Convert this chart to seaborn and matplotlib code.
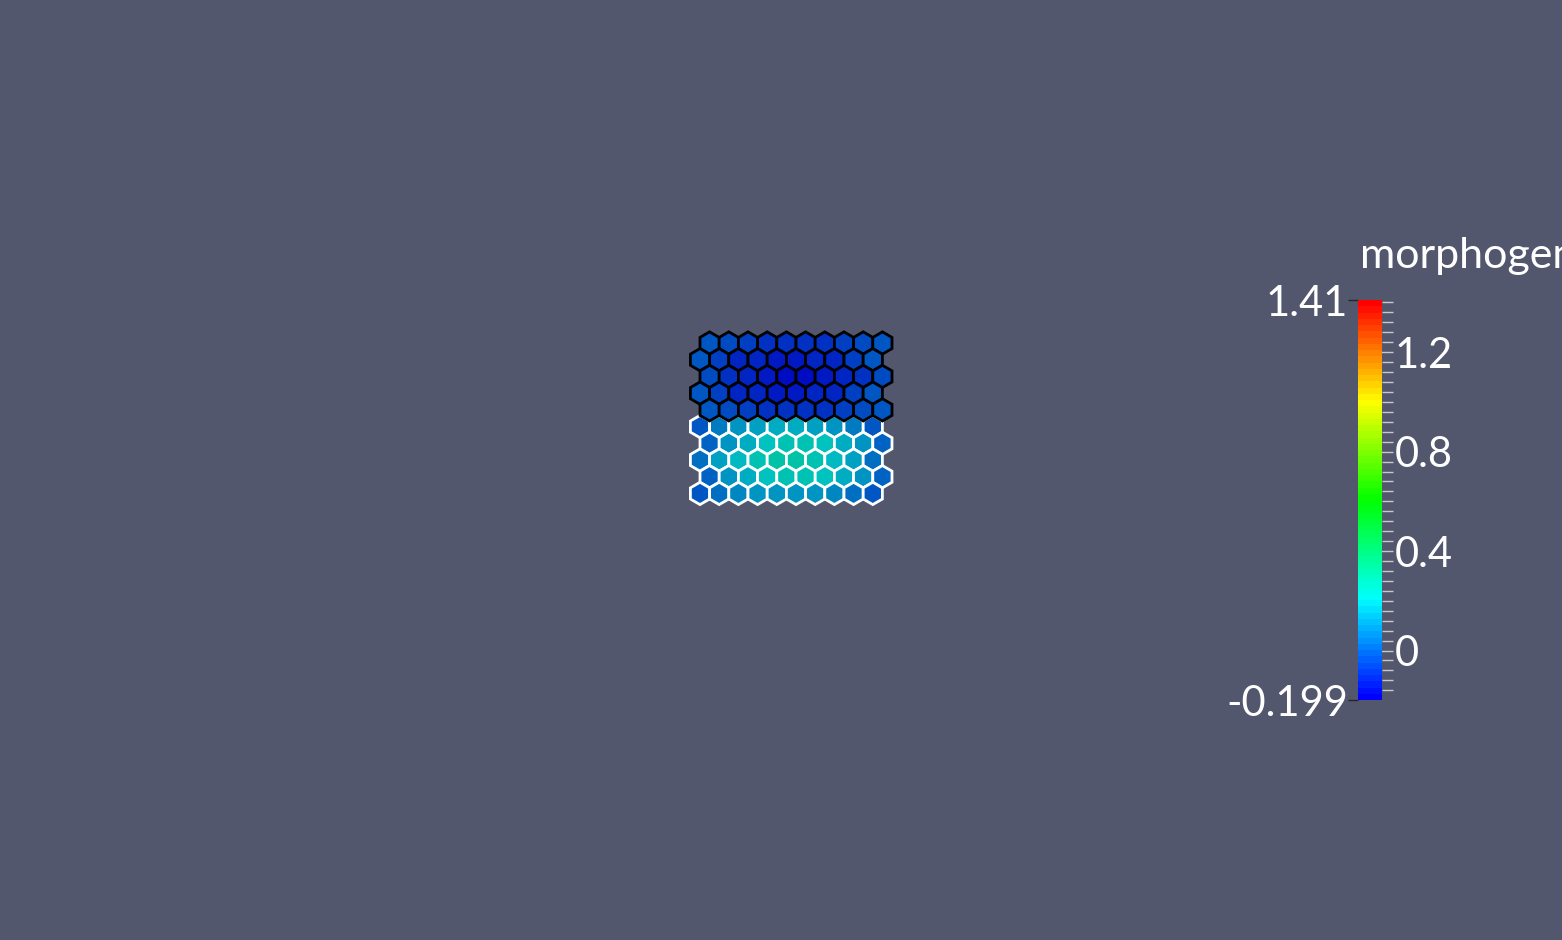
import colorsys
import numpy as np
import matplotlib
matplotlib.use("Agg")
import matplotlib.pyplot as plt
import seaborn as sns
from matplotlib.colors import ListedColormap, Normalize
from matplotlib.patches import RegularPolygon
from matplotlib.cm import ScalarMappable

# --- data: morphogen value per cell, 10 rows x 10 cells ---
upper_cells = [  # black-outlined tissue
    [-0.01, -0.04, -0.06, -0.08, -0.09, -0.09, -0.08, -0.06, -0.04, -0.01],
    [-0.02, -0.07, -0.10, -0.12, -0.13, -0.13, -0.12, -0.10, -0.07, -0.02],
    [-0.03, -0.08, -0.12, -0.14, -0.15, -0.15, -0.14, -0.12, -0.08, -0.03],
    [-0.02, -0.07, -0.10, -0.12, -0.13, -0.13, -0.12, -0.10, -0.07, -0.02],
    [-0.01, -0.04, -0.06, -0.08, -0.09, -0.09, -0.08, -0.06, -0.04, -0.01],
]
lower_cells = [  # white-outlined tissue
    [0.00, 0.07, 0.12, 0.15, 0.17, 0.17, 0.15, 0.12, 0.07, 0.00],
    [0.02, 0.11, 0.17, 0.21, 0.23, 0.23, 0.21, 0.17, 0.11, 0.02],
    [0.03, 0.13, 0.20, 0.24, 0.27, 0.27, 0.24, 0.20, 0.13, 0.03],
    [0.02, 0.11, 0.17, 0.21, 0.23, 0.23, 0.21, 0.17, 0.11, 0.02],
    [-0.01, 0.05, 0.09, 0.11, 0.12, 0.12, 0.11, 0.09, 0.05, -0.01],
]
vmin, vmax = -0.199, 1.41
major_ticks = [0, 0.4, 0.8, 1.2]
title = "morphogen"

# --- style ---
bg = "#52576e"
sns.set_style("white", {"axes.facecolor": bg, "figure.facecolor": bg})
plt.rcParams["font.family"] = ["Lato", "DejaVu Sans"]

# blue -> red rainbow (HSV), 64 bands
hues = np.linspace(240, 0, 64) / 360.0
cmap = ListedColormap([colorsys.hsv_to_rgb(h, 1, 1) for h in hues])
norm = Normalize(vmin, vmax)
shade = 0.76  # lighting

fig = plt.figure(figsize=(15.62, 9.4), dpi=100)
ax = fig.add_axes([0, 0, 1, 1])
ax.set_facecolor(bg)
ax.axis("off")

px_x, px_y = 19.2, 19.3   # pixels per hex unit
x0, y0 = 700, 343
ax.set_xlim(-x0 / px_x, (1562 - x0) / px_x)
ax.set_ylim((940 - y0) / px_y, -y0 / px_y)

R = 1 / np.sqrt(3)


def draw_tissue(cells, row_start, edge):
    for i, row in enumerate(cells):
        r = row_start + i
        off = 0.5 if r % 2 == 0 else 0.0
        for c, v in enumerate(row):
            rgb = np.array(cmap(norm(v))[:3]) * shade
            ax.add_patch(RegularPolygon((c + off, r * np.sqrt(3) / 2), 6, radius=R,
                                        facecolor=rgb, edgecolor=edge, linewidth=2.0))


draw_tissue(lower_cells, 5, "white")
draw_tissue(upper_cells, 0, "black")

# --- colorbar ---
cax = fig.add_axes([1358 / 1562, 240 / 940, 24 / 1562, 400 / 940])
sm = ScalarMappable(norm=norm, cmap=cmap)
cb = fig.colorbar(sm, cax=cax)
cb.outline.set_visible(False)
cb.set_ticks(major_ticks)
cb.set_ticklabels(["0", "0.4", "0.8", "1.2"])
cb.set_ticks(np.arange(-0.16, 1.41, 0.04), minor=True)
cax.yaxis.set_ticks_position("right")
cax.tick_params(axis="y", which="major", direction="inout", length=16, width=1,
                color="#c8c8c8", labelcolor="white", labelsize=30, pad=1)
cax.tick_params(axis="y", which="minor", direction="out", length=8, width=1,
                color="#c8c8c8")

# range labels on the left
sec = cax.secondary_yaxis("left")
sec.set_yticks([vmin, vmax])
sec.set_yticklabels(["-0.199", "1.41"])
sec.tick_params(axis="y", direction="out", length=7, width=1, labelcolor="white",
                labelsize=30, pad=0)
sec.spines["left"].set_visible(False)
ticks = sec.yaxis.get_major_ticks()
ticks[0].tick1line.set_color("blue")
ticks[1].tick1line.set_color("red")

fig.text(1360 / 1562, 1 - 268 / 940, title, color="white", fontsize=31,
         ha="left", va="baseline")

fig.savefig("out.png", dpi=100, facecolor=bg)
